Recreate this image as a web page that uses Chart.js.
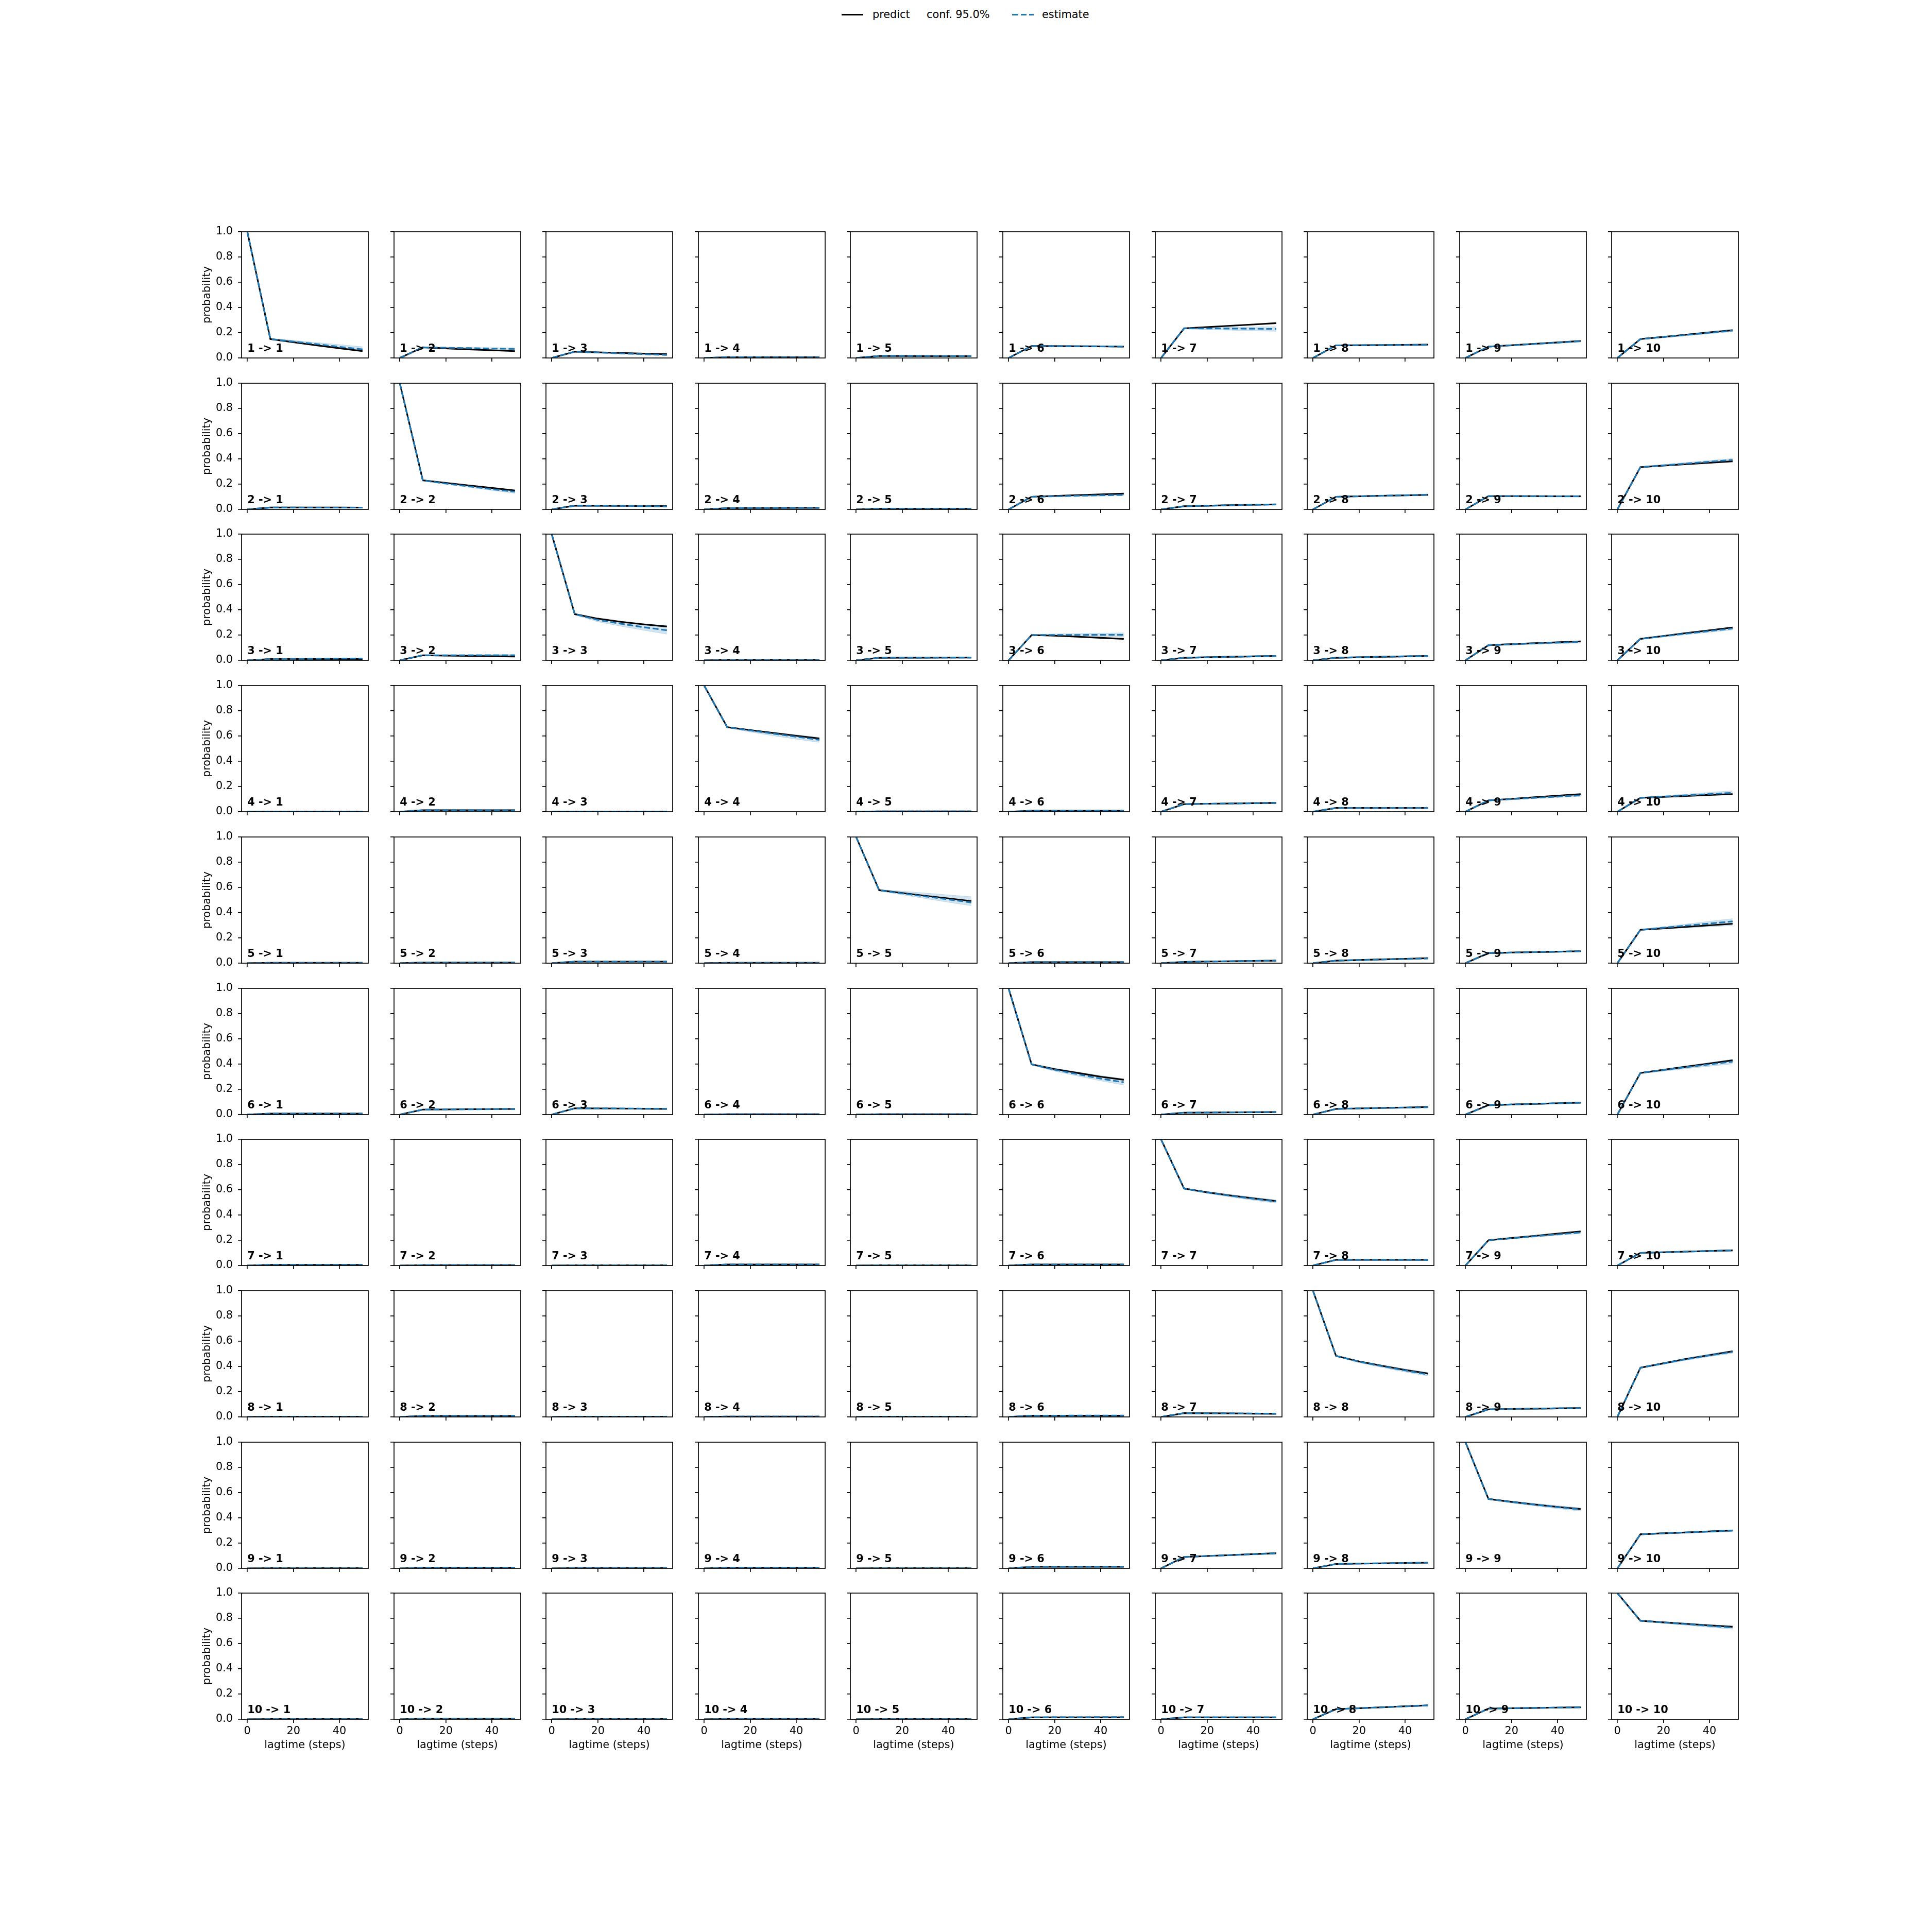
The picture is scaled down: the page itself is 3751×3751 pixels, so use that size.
<!doctype html>
<html>
<head>
<meta charset="UTF-8">
<title>CK test</title>
<script src="https://cdn.jsdelivr.net/npm/chart.js@4.4.0/dist/chart.umd.min.js"></script>
<style>
	body { margin: 0; background: #fff; }
	#page { position: relative; width: 3751px; height: 3751px; background: #fff; font-family: "DejaVu Sans"; overflow: hidden; }
	#page canvas { position: absolute; }
	.lg { position: absolute; font-size: 20.8px; line-height: 24px; color: #000; white-space: nowrap; }
</style>
</head>
<body>
<div id="page">
	<div style="position:absolute;left:1634px;top:27px;width:42px;height:3px;background:#000"></div>
	<span class="lg" style="left:1694px;top:16px">predict</span>
	<span class="lg" style="left:1799px;top:16px">conf. 95.0%</span>
	<div style="position:absolute;left:1965px;top:27px;width:42px;height:3px;background:repeating-linear-gradient(90deg,#1f77b4 0 11.6px,transparent 11.6px 16.6px)"></div>
	<span class="lg" style="left:2023px;top:16px">estimate</span>
</div>
<script>
	// lag times (steps) and axis ticks
	var lagtimes = [0, 10, 20, 30, 40, 50];
	var states = ['1', '2', '3', '4', '5', '6', '7', '8', '9', '10'];
	var xTicks = [0, 20, 40];
	var yTicks = [0, 0.2, 0.4, 0.6, 0.8, 1.0];

	// predict[from][to] : model prediction
	var predict = [
		[[1,0.150,0.125,0.100,0.077,0.054],[0,0.084,0.076,0.068,0.061,0.054],[0,0.050,0.045,0.040,0.035,0.030],[0,0.006,0.006,0.006,0.006,0.006],[0,0.016,0.016,0.015,0.015,0.015],[0,0.095,0.094,0.093,0.092,0.090],[0,0.235,0.245,0.255,0.265,0.276],[0,0.100,0.101,0.102,0.104,0.106],[0,0.090,0.101,0.112,0.123,0.135],[0,0.150,0.167,0.185,0.203,0.220]],
		[[0,0.015,0.015,0.015,0.015,0.014],[1,0.230,0.210,0.190,0.170,0.150],[0,0.030,0.029,0.028,0.027,0.026],[0,0.010,0.011,0.011,0.012,0.012],[0,0.005,0.005,0.005,0.005,0.005],[0,0.100,0.107,0.113,0.119,0.125],[0,0.025,0.029,0.033,0.037,0.040],[0,0.100,0.104,0.108,0.111,0.115],[0,0.105,0.105,0.105,0.104,0.104],[0,0.335,0.347,0.358,0.370,0.381]],
		[[0,0.010,0.010,0.010,0.010,0.010],[0,0.040,0.037,0.035,0.032,0.030],[1,0.366,0.330,0.305,0.285,0.268],[0,0.003,0.003,0.003,0.003,0.003],[0,0.020,0.021,0.021,0.022,0.022],[0,0.200,0.195,0.187,0.178,0.170],[0,0.020,0.024,0.028,0.031,0.035],[0,0.020,0.024,0.028,0.031,0.035],[0,0.120,0.128,0.136,0.143,0.150],[0,0.170,0.193,0.216,0.238,0.260]],
		[[0,0.002,0.002,0.002,0.002,0.002],[0,0.012,0.012,0.012,0.012,0.012],[0,0.002,0.002,0.002,0.002,0.002],[1,0.670,0.647,0.624,0.602,0.580],[0,0.003,0.003,0.003,0.003,0.003],[0,0.008,0.008,0.008,0.008,0.008],[0,0.060,0.063,0.065,0.068,0.070],[0,0.030,0.030,0.030,0.030,0.030],[0,0.090,0.102,0.115,0.127,0.140],[0,0.110,0.118,0.125,0.133,0.140]],
		[[0,0.003,0.003,0.003,0.003,0.003],[0,0.005,0.005,0.005,0.005,0.005],[0,0.012,0.012,0.012,0.012,0.012],[0,0.003,0.003,0.003,0.003,0.003],[1,0.578,0.556,0.534,0.513,0.492],[0,0.008,0.008,0.008,0.008,0.008],[0,0.010,0.013,0.015,0.018,0.020],[0,0.020,0.025,0.030,0.035,0.040],[0,0.080,0.084,0.088,0.091,0.095],[0,0.264,0.276,0.288,0.300,0.312]],
		[[0,0.008,0.008,0.008,0.008,0.008],[0,0.040,0.041,0.043,0.044,0.045],[0,0.050,0.049,0.048,0.046,0.045],[0,0.003,0.003,0.003,0.003,0.003],[0,0.003,0.003,0.003,0.003,0.003],[1,0.398,0.360,0.330,0.300,0.276],[0,0.015,0.016,0.018,0.019,0.020],[0,0.045,0.049,0.053,0.056,0.060],[0,0.075,0.080,0.085,0.090,0.095],[0,0.330,0.355,0.380,0.405,0.430]],
		[[0,0.005,0.005,0.005,0.005,0.005],[0,0.003,0.003,0.003,0.003,0.003],[0,0.002,0.002,0.002,0.002,0.002],[0,0.008,0.008,0.008,0.008,0.008],[0,0.002,0.002,0.002,0.002,0.002],[0,0.008,0.008,0.008,0.008,0.008],[1,0.610,0.580,0.555,0.532,0.510],[0,0.045,0.045,0.045,0.045,0.045],[0,0.200,0.218,0.235,0.253,0.270],[0,0.100,0.105,0.110,0.115,0.120]],
		[[0,0.002,0.002,0.002,0.002,0.002],[0,0.008,0.008,0.008,0.008,0.008],[0,0.002,0.002,0.002,0.002,0.002],[0,0.003,0.003,0.003,0.003,0.003],[0,0.002,0.002,0.002,0.002,0.002],[0,0.010,0.010,0.010,0.010,0.010],[0,0.030,0.029,0.028,0.026,0.025],[1,0.484,0.440,0.405,0.372,0.344],[0,0.060,0.063,0.065,0.068,0.070],[0,0.390,0.425,0.460,0.490,0.520]],
		[[0,0.002,0.002,0.002,0.002,0.002],[0,0.005,0.005,0.005,0.005,0.005],[0,0.003,0.003,0.003,0.003,0.003],[0,0.005,0.005,0.005,0.005,0.005],[0,0.002,0.002,0.002,0.002,0.002],[0,0.012,0.012,0.012,0.012,0.012],[0,0.090,0.098,0.105,0.113,0.120],[0,0.035,0.038,0.040,0.043,0.045],[1,0.550,0.527,0.506,0.487,0.470],[0,0.270,0.278,0.285,0.293,0.300]],
		[[0,0.002,0.002,0.002,0.002,0.002],[0,0.005,0.005,0.005,0.005,0.005],[0,0.002,0.002,0.002,0.002,0.002],[0,0.003,0.003,0.003,0.003,0.003],[0,0.002,0.002,0.002,0.002,0.002],[0,0.015,0.015,0.015,0.015,0.015],[0,0.015,0.015,0.015,0.015,0.015],[0,0.080,0.088,0.095,0.103,0.110],[0,0.085,0.088,0.090,0.093,0.095],[1,0.781,0.768,0.756,0.744,0.733]]
	];

	// estimate[from][to] : estimated at each lag time
	var estimate = [
		[[1,0.150,0.130,0.110,0.088,0.068],[0,0.084,0.081,0.078,0.075,0.072],[0,0.050,0.043,0.036,0.030,0.024],[0,0.006,0.006,0.005,0.005,0.005],[0,0.016,0.016,0.016,0.015,0.015],[0,0.095,0.094,0.093,0.092,0.091],[0,0.235,0.234,0.233,0.232,0.230],[0,0.100,0.101,0.102,0.103,0.104],[0,0.090,0.100,0.111,0.122,0.133],[0,0.150,0.166,0.183,0.200,0.217]],
		[[0,0.015,0.015,0.014,0.014,0.014],[1,0.230,0.205,0.183,0.160,0.140],[0,0.030,0.029,0.027,0.026,0.024],[0,0.010,0.011,0.011,0.012,0.012],[0,0.005,0.005,0.005,0.005,0.005],[0,0.100,0.104,0.108,0.112,0.115],[0,0.025,0.029,0.033,0.036,0.039],[0,0.100,0.104,0.108,0.112,0.116],[0,0.105,0.105,0.104,0.104,0.104],[0,0.335,0.349,0.363,0.378,0.392]],
		[[0,0.010,0.011,0.012,0.013,0.014],[0,0.040,0.040,0.040,0.040,0.040],[1,0.366,0.320,0.290,0.262,0.238],[0,0.003,0.003,0.003,0.003,0.003],[0,0.020,0.021,0.021,0.022,0.022],[0,0.200,0.201,0.201,0.202,0.202],[0,0.020,0.024,0.027,0.031,0.034],[0,0.020,0.024,0.028,0.031,0.034],[0,0.120,0.127,0.134,0.140,0.146],[0,0.170,0.191,0.212,0.232,0.252]],
		[[0,0.002,0.002,0.002,0.002,0.002],[0,0.012,0.012,0.012,0.011,0.011],[0,0.002,0.002,0.002,0.002,0.002],[1,0.670,0.644,0.619,0.594,0.570],[0,0.003,0.003,0.003,0.003,0.003],[0,0.008,0.008,0.008,0.008,0.008],[0,0.060,0.063,0.065,0.068,0.070],[0,0.030,0.030,0.030,0.030,0.030],[0,0.090,0.100,0.110,0.120,0.130],[0,0.110,0.120,0.130,0.140,0.150]],
		[[0,0.003,0.003,0.003,0.003,0.003],[0,0.005,0.005,0.005,0.005,0.005],[0,0.012,0.012,0.012,0.012,0.012],[0,0.003,0.003,0.003,0.003,0.003],[1,0.578,0.553,0.529,0.505,0.481],[0,0.008,0.008,0.008,0.008,0.008],[0,0.010,0.013,0.015,0.018,0.020],[0,0.020,0.024,0.029,0.033,0.037],[0,0.080,0.084,0.088,0.091,0.095],[0,0.264,0.281,0.298,0.314,0.331]],
		[[0,0.008,0.008,0.008,0.008,0.008],[0,0.040,0.041,0.042,0.043,0.044],[0,0.050,0.049,0.048,0.047,0.046],[0,0.003,0.003,0.003,0.003,0.003],[0,0.003,0.003,0.003,0.003,0.003],[1,0.398,0.355,0.320,0.285,0.256],[0,0.015,0.016,0.018,0.019,0.020],[0,0.045,0.049,0.052,0.055,0.058],[0,0.075,0.080,0.085,0.090,0.094],[0,0.330,0.353,0.376,0.398,0.420]],
		[[0,0.005,0.005,0.005,0.005,0.005],[0,0.003,0.003,0.003,0.003,0.003],[0,0.002,0.002,0.002,0.002,0.002],[0,0.008,0.008,0.008,0.008,0.008],[0,0.002,0.002,0.002,0.002,0.002],[0,0.008,0.008,0.008,0.008,0.008],[1,0.610,0.579,0.553,0.529,0.507],[0,0.045,0.045,0.045,0.045,0.044],[0,0.200,0.216,0.232,0.247,0.262],[0,0.100,0.105,0.110,0.115,0.120]],
		[[0,0.002,0.002,0.002,0.002,0.002],[0,0.008,0.008,0.008,0.008,0.008],[0,0.002,0.002,0.002,0.002,0.002],[0,0.003,0.003,0.003,0.003,0.003],[0,0.002,0.002,0.002,0.002,0.002],[0,0.010,0.010,0.011,0.011,0.011],[0,0.030,0.029,0.028,0.027,0.026],[1,0.484,0.438,0.402,0.368,0.337],[0,0.060,0.063,0.065,0.068,0.070],[0,0.390,0.424,0.458,0.488,0.515]],
		[[0,0.002,0.002,0.002,0.002,0.002],[0,0.005,0.005,0.005,0.005,0.005],[0,0.003,0.003,0.003,0.003,0.003],[0,0.005,0.005,0.005,0.005,0.005],[0,0.002,0.002,0.002,0.002,0.002],[0,0.012,0.013,0.013,0.014,0.014],[0,0.090,0.098,0.105,0.112,0.119],[0,0.035,0.038,0.040,0.043,0.045],[1,0.550,0.526,0.505,0.485,0.467],[0,0.270,0.278,0.285,0.292,0.299]],
		[[0,0.002,0.002,0.002,0.002,0.002],[0,0.005,0.005,0.005,0.005,0.005],[0,0.002,0.002,0.002,0.002,0.002],[0,0.003,0.003,0.003,0.003,0.003],[0,0.002,0.002,0.002,0.002,0.002],[0,0.015,0.016,0.016,0.017,0.017],[0,0.015,0.015,0.015,0.015,0.015],[0,0.080,0.088,0.095,0.103,0.110],[0,0.085,0.088,0.090,0.093,0.095],[1,0.781,0.767,0.754,0.740,0.727]]
	];

	// 95% confidence band of the estimate, lower and upper edges
	var confLow = [
		[[1,0.147,0.124,0.102,0.079,0.056],[0,0.080,0.076,0.073,0.069,0.065],[0,0.046,0.039,0.032,0.025,0.019],[0,0.004,0.004,0.003,0.003,0.003],[0,0.013,0.013,0.012,0.012,0.011],[0,0.091,0.089,0.088,0.086,0.085],[0,0.230,0.225,0.220,0.215,0.211],[0,0.096,0.096,0.096,0.097,0.097],[0,0.086,0.095,0.105,0.115,0.125],[0,0.145,0.160,0.176,0.192,0.208]],
		[[0,0.013,0.012,0.011,0.011,0.010],[1,0.225,0.198,0.174,0.150,0.128],[0,0.027,0.025,0.023,0.021,0.019],[0,0.008,0.008,0.008,0.009,0.009],[0,0.003,0.003,0.003,0.003,0.003],[0,0.096,0.099,0.102,0.105,0.108],[0,0.022,0.025,0.029,0.032,0.034],[0,0.096,0.099,0.102,0.106,0.109],[0,0.101,0.100,0.099,0.098,0.097],[0,0.330,0.342,0.355,0.368,0.381]],
		[[0,0.008,0.008,0.009,0.009,0.010],[0,0.036,0.035,0.034,0.033,0.032],[1,0.360,0.305,0.270,0.238,0.207],[0,0.001,0.001,0.001,0.001,0.001],[0,0.017,0.017,0.017,0.017,0.017],[0,0.195,0.193,0.191,0.189,0.187],[0,0.017,0.020,0.023,0.026,0.029],[0,0.017,0.020,0.023,0.026,0.029],[0,0.116,0.121,0.127,0.132,0.137],[0,0.165,0.184,0.203,0.222,0.241]],
		[[0,0.001,0.001,0.001,0.001,0.001],[0,0.010,0.010,0.009,0.009,0.008],[0,0.001,0.001,0.001,0.001,0.001],[1,0.665,0.632,0.602,0.575,0.550],[0,0.002,0.002,0.002,0.002,0.002],[0,0.006,0.006,0.006,0.006,0.006],[0,0.057,0.059,0.061,0.063,0.065],[0,0.027,0.027,0.027,0.026,0.026],[0,0.086,0.095,0.104,0.113,0.122],[0,0.106,0.114,0.122,0.130,0.138]],
		[[0,0.002,0.002,0.002,0.002,0.002],[0,0.004,0.004,0.004,0.004,0.004],[0,0.010,0.010,0.010,0.010,0.010],[0,0.002,0.002,0.002,0.002,0.002],[1,0.572,0.542,0.512,0.483,0.455],[0,0.006,0.006,0.006,0.006,0.006],[0,0.008,0.010,0.012,0.014,0.016],[0,0.017,0.021,0.025,0.028,0.032],[0,0.077,0.080,0.083,0.086,0.089],[0,0.260,0.270,0.280,0.289,0.298]],
		[[0,0.006,0.006,0.006,0.006,0.006],[0,0.037,0.037,0.038,0.038,0.039],[0,0.047,0.045,0.044,0.042,0.041],[0,0.002,0.002,0.002,0.002,0.002],[0,0.002,0.002,0.002,0.002,0.002],[1,0.392,0.344,0.305,0.267,0.234],[0,0.013,0.014,0.015,0.016,0.017],[0,0.042,0.045,0.048,0.050,0.053],[0,0.072,0.076,0.080,0.084,0.088],[0,0.325,0.344,0.364,0.383,0.402]],
		[[0,0.004,0.004,0.004,0.004,0.004],[0,0.002,0.002,0.002,0.002,0.002],[0,0.001,0.001,0.001,0.001,0.001],[0,0.006,0.006,0.006,0.006,0.006],[0,0.001,0.001,0.001,0.001,0.001],[0,0.006,0.006,0.006,0.006,0.006],[1,0.605,0.571,0.543,0.517,0.494],[0,0.042,0.042,0.041,0.041,0.040],[0,0.196,0.210,0.225,0.239,0.253],[0,0.097,0.101,0.106,0.110,0.114]],
		[[0,0.001,0.001,0.001,0.001,0.001],[0,0.006,0.006,0.006,0.006,0.006],[0,0.001,0.001,0.001,0.001,0.001],[0,0.002,0.002,0.002,0.002,0.002],[0,0.001,0.001,0.001,0.001,0.001],[0,0.008,0.008,0.008,0.008,0.008],[0,0.027,0.026,0.025,0.024,0.022],[1,0.479,0.430,0.392,0.356,0.324],[0,0.057,0.059,0.061,0.063,0.065],[0,0.385,0.417,0.449,0.478,0.504]],
		[[0,0.001,0.001,0.001,0.001,0.001],[0,0.004,0.004,0.004,0.004,0.004],[0,0.002,0.002,0.002,0.002,0.002],[0,0.004,0.004,0.004,0.004,0.004],[0,0.001,0.001,0.001,0.001,0.001],[0,0.010,0.010,0.010,0.011,0.011],[0,0.087,0.094,0.100,0.106,0.112],[0,0.032,0.035,0.037,0.039,0.041],[1,0.545,0.518,0.495,0.473,0.454],[0,0.266,0.273,0.279,0.285,0.291]],
		[[0,0.001,0.001,0.001,0.001,0.001],[0,0.004,0.004,0.004,0.004,0.004],[0,0.001,0.001,0.001,0.001,0.001],[0,0.002,0.002,0.002,0.002,0.002],[0,0.001,0.001,0.001,0.001,0.001],[0,0.013,0.013,0.013,0.014,0.014],[0,0.013,0.013,0.013,0.013,0.013],[0,0.077,0.084,0.090,0.097,0.103],[0,0.082,0.084,0.086,0.088,0.090],[1,0.777,0.760,0.745,0.729,0.714]]
	];
	var confHigh = [
		[[1,0.155,0.139,0.122,0.106,0.089],[0,0.088,0.086,0.083,0.081,0.079],[0,0.054,0.048,0.042,0.036,0.030],[0,0.008,0.008,0.008,0.008,0.008],[0,0.019,0.019,0.019,0.019,0.019],[0,0.099,0.099,0.098,0.098,0.097],[0,0.240,0.242,0.244,0.246,0.248],[0,0.104,0.106,0.108,0.109,0.111],[0,0.094,0.105,0.117,0.129,0.141],[0,0.155,0.172,0.190,0.208,0.226]],
		[[0,0.017,0.017,0.017,0.017,0.017],[1,0.235,0.212,0.191,0.170,0.151],[0,0.033,0.032,0.031,0.030,0.029],[0,0.012,0.013,0.014,0.015,0.015],[0,0.007,0.007,0.007,0.007,0.007],[0,0.104,0.109,0.114,0.119,0.123],[0,0.028,0.033,0.037,0.041,0.044],[0,0.104,0.109,0.114,0.118,0.123],[0,0.109,0.110,0.110,0.110,0.111],[0,0.340,0.356,0.372,0.388,0.403]],
		[[0,0.012,0.014,0.015,0.017,0.018],[0,0.044,0.045,0.046,0.047,0.048],[1,0.372,0.335,0.310,0.290,0.275],[0,0.005,0.005,0.005,0.005,0.005],[0,0.023,0.025,0.026,0.027,0.028],[0,0.205,0.209,0.212,0.215,0.217],[0,0.023,0.028,0.032,0.036,0.040],[0,0.023,0.028,0.032,0.036,0.040],[0,0.124,0.133,0.141,0.148,0.155],[0,0.175,0.198,0.221,0.243,0.264]],
		[[0,0.003,0.003,0.003,0.003,0.003],[0,0.014,0.014,0.015,0.015,0.015],[0,0.003,0.003,0.003,0.003,0.003],[1,0.675,0.652,0.630,0.610,0.590],[0,0.004,0.004,0.004,0.004,0.004],[0,0.010,0.010,0.010,0.010,0.010],[0,0.063,0.067,0.070,0.073,0.076],[0,0.033,0.033,0.034,0.034,0.034],[0,0.094,0.105,0.116,0.127,0.138],[0,0.114,0.127,0.140,0.153,0.166]],
		[[0,0.004,0.004,0.004,0.004,0.004],[0,0.006,0.006,0.006,0.006,0.006],[0,0.014,0.014,0.014,0.014,0.014],[0,0.004,0.004,0.004,0.004,0.004],[1,0.584,0.570,0.556,0.541,0.527],[0,0.010,0.010,0.010,0.010,0.010],[0,0.012,0.016,0.018,0.022,0.024],[0,0.023,0.028,0.033,0.038,0.042],[0,0.083,0.088,0.092,0.096,0.101],[0,0.268,0.289,0.310,0.332,0.353]],
		[[0,0.010,0.010,0.010,0.010,0.010],[0,0.043,0.045,0.046,0.048,0.049],[0,0.053,0.053,0.052,0.052,0.051],[0,0.004,0.004,0.004,0.004,0.004],[0,0.004,0.004,0.004,0.004,0.004],[1,0.404,0.368,0.338,0.309,0.284],[0,0.017,0.019,0.021,0.022,0.023],[0,0.048,0.053,0.056,0.060,0.063],[0,0.078,0.084,0.090,0.096,0.100],[0,0.335,0.361,0.386,0.412,0.438]],
		[[0,0.006,0.006,0.006,0.006,0.006],[0,0.004,0.004,0.004,0.004,0.004],[0,0.003,0.003,0.003,0.003,0.003],[0,0.010,0.010,0.010,0.010,0.010],[0,0.003,0.003,0.003,0.003,0.003],[0,0.010,0.010,0.010,0.010,0.010],[1,0.615,0.587,0.563,0.541,0.520],[0,0.048,0.048,0.049,0.049,0.049],[0,0.204,0.222,0.239,0.255,0.271],[0,0.103,0.109,0.114,0.120,0.126]],
		[[0,0.003,0.003,0.003,0.003,0.003],[0,0.010,0.010,0.010,0.010,0.010],[0,0.003,0.003,0.003,0.003,0.003],[0,0.004,0.004,0.004,0.004,0.004],[0,0.003,0.003,0.003,0.003,0.003],[0,0.012,0.012,0.014,0.014,0.014],[0,0.033,0.032,0.031,0.030,0.030],[1,0.489,0.446,0.412,0.380,0.352],[0,0.063,0.067,0.069,0.073,0.075],[0,0.395,0.431,0.467,0.498,0.526]],
		[[0,0.003,0.003,0.003,0.003,0.003],[0,0.006,0.006,0.006,0.006,0.006],[0,0.004,0.004,0.004,0.004,0.004],[0,0.006,0.006,0.006,0.006,0.006],[0,0.003,0.003,0.003,0.003,0.003],[0,0.014,0.016,0.016,0.017,0.017],[0,0.093,0.102,0.110,0.118,0.126],[0,0.038,0.041,0.043,0.047,0.049],[1,0.555,0.534,0.515,0.497,0.480],[0,0.274,0.283,0.291,0.299,0.307]],
		[[0,0.003,0.003,0.003,0.003,0.003],[0,0.006,0.006,0.006,0.006,0.006],[0,0.003,0.003,0.003,0.003,0.003],[0,0.004,0.004,0.004,0.004,0.004],[0,0.003,0.003,0.003,0.003,0.003],[0,0.017,0.019,0.019,0.020,0.020],[0,0.017,0.017,0.017,0.017,0.017],[0,0.083,0.092,0.100,0.109,0.117],[0,0.088,0.092,0.094,0.098,0.100],[1,0.785,0.774,0.763,0.751,0.740]]
	];

	// layout of the axes grid (pixels)
	var AX_LEFT = 469, AX_TOP = 450, STEP_X = 295.6, STEP_Y = 293.7;
	var AX_W = 246, AX_H = 245;
	var PAD_TOP = 24, PAD_RIGHT = 10;
	var FONT = 'DejaVu Sans';
	var FONT_SIZE = 20.8;
	var BLUE = '#1f77b4';
	var BAND = 'rgba(31,119,180,0.2)';

	function pts(arr) {
		return lagtimes.map(function (t, k) { return {x: t, y: arr[k]}; });
	}

	// frame around the plot area and the "i -> j" label
	var framePlugin = {
		id: 'frame',
		afterDraw: function (chart, args, opts) {
			var ctx = chart.ctx, a = chart.chartArea;
			ctx.save();
			ctx.font = 'bold ' + FONT_SIZE + 'px "' + FONT + '"';
			ctx.fillStyle = '#000';
			ctx.textAlign = 'left';
			ctx.textBaseline = 'alphabetic';
			ctx.fillText(opts.text, chart.scales.x.getPixelForValue(0), chart.scales.y.getPixelForValue(0.05));
			ctx.strokeStyle = '#000';
			ctx.lineWidth = 1.7;
			ctx.strokeRect(a.left, a.top, a.right - a.left, a.bottom - a.top);
			ctx.restore();
		}
	};

	var page = document.getElementById('page');

	for (var r = 0; r < 10; r++) {
		for (var c = 0; c < 10; c++) {
			var firstCol = c === 0;
			var lastRow = r === 9;
			var L = firstCol ? 130 : 12;
			var B = lastRow ? 75 : 24;
			var cv = document.createElement('canvas');
			var w = L + AX_W + PAD_RIGHT, h = PAD_TOP + AX_H + B;
			cv.width = w; cv.height = h;
			cv.style.width = w + 'px'; cv.style.height = h + 'px';
			cv.style.left = (Math.round(AX_LEFT + c * STEP_X) - L) + 'px';
			cv.style.top = (Math.round(AX_TOP + r * STEP_Y) - PAD_TOP) + 'px';
			page.appendChild(cv);

			var tickFont = {family: FONT, size: FONT_SIZE};
			new Chart(cv.getContext('2d'), {
				type: 'line',
				data: {
					datasets: [
						{data: pts(confLow[r][c]), borderColor: BAND, borderWidth: 1, pointRadius: 0, fill: false, order: 3},
						{data: pts(confHigh[r][c]), borderColor: BAND, backgroundColor: BAND, borderWidth: 1, pointRadius: 0, fill: '-1', order: 2},
						{label: 'predict', data: pts(predict[r][c]), borderColor: '#000', borderWidth: 3.1, pointRadius: 0, fill: false, order: 1},
						{label: 'estimate', data: pts(estimate[r][c]), borderColor: BLUE, borderWidth: 3.1, borderDash: [11.6, 5], pointRadius: 0, fill: false, order: 0}
					]
				},
				options: {
					responsive: false,
					animation: false,
					devicePixelRatio: 1,
					events: [],
					layout: {padding: {top: PAD_TOP, right: PAD_RIGHT, left: 0, bottom: 0}},
					elements: {line: {tension: 0}},
					plugins: {
						legend: {display: false},
						tooltip: {enabled: false},
						frame: {text: states[r] + ' -> ' + states[c]}
					},
					scales: {
						x: {
							type: 'linear', min: -2.5, max: 52.5,
							afterBuildTicks: function (s) { s.ticks = xTicks.map(function (v) { return {value: v}; }); },
							afterFit: (function (b) { return function (s) { s.height = b; }; })(B),
							grid: {drawOnChartArea: false, drawTicks: true, tickLength: 7, color: '#000', lineWidth: 1.7},
							border: {display: false},
							ticks: {display: lastRow, padding: 4.5, color: '#000', font: tickFont, maxRotation: 0, autoSkip: false,
								callback: function (v) { return String(v); }},
							title: {display: lastRow, text: 'lagtime (steps)', color: '#000', font: tickFont, padding: {top: 0, bottom: 12}}
						},
						y: {
							type: 'linear', min: 0, max: 1,
							afterBuildTicks: function (s) { s.ticks = yTicks.map(function (v) { return {value: v}; }); },
							afterFit: (function (l) { return function (s) { s.width = l; }; })(L),
							grid: {drawOnChartArea: false, drawTicks: true, tickLength: 7, color: '#000', lineWidth: 1.7},
							border: {display: false},
							ticks: {display: firstCol, padding: 10, color: '#000', font: tickFont, autoSkip: false,
								callback: function (v) { return v.toFixed(1); }},
							title: {display: firstCol, text: 'probability', color: '#000', font: tickFont, padding: {top: 51.5, bottom: 0}}
						}
					}
				},
				plugins: [framePlugin]
			});
		}
	}
</script>
</body>
</html>
